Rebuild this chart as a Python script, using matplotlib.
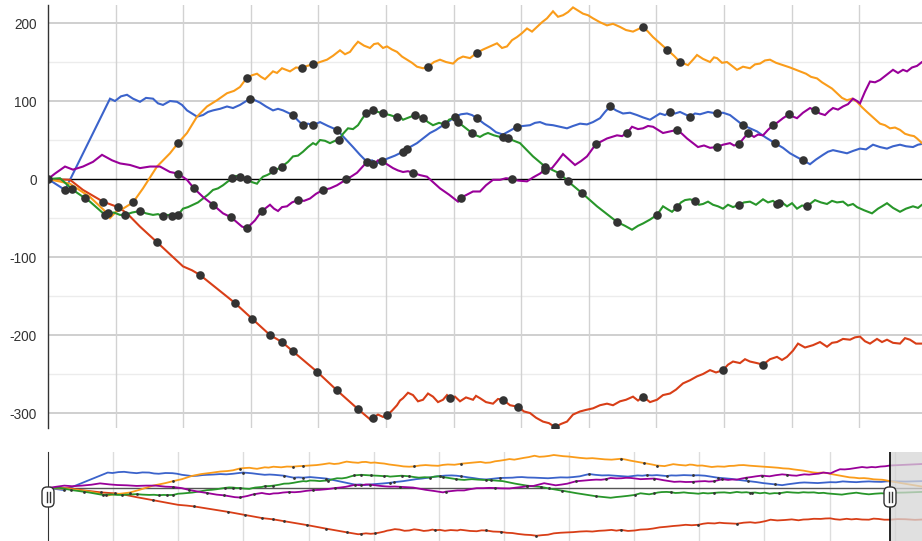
import numpy as np
import matplotlib
matplotlib.use('Agg')
import matplotlib.pyplot as plt
from matplotlib.patches import FancyBboxPatch
from matplotlib.lines import Line2D
from matplotlib.transforms import IdentityTransform

plt.rcParams['font.family'] = ['Liberation Sans', 'DejaVu Sans']

# (step, value); the selected range ends at step 874
blue_pts = [(0, 0), (17, -14), (62, 103), (67, 100), (73, 106), (79, 108), (85, 103), (92, 99), (98, 104), (105, 103),
            (110, 97), (115, 95), (122, 100), (129, 99), (134, 95), (139, 88), (144, 84), (149, 80), (155, 82), (160, 86),
            (165, 88), (172, 90), (179, 93), (185, 91), (192, 95), (197, 99), (202, 103), (207, 101), (212, 98), (218, 93),
            (225, 88), (230, 90), (235, 88), (240, 85), (245, 82), (250, 75), (255, 69), (260, 71), (265, 69), (272, 73),
            (280, 68), (289, 63), (297, 52), (305, 41), (312, 31), (319, 22), (324, 24), (329, 20), (334, 23), (339, 26),
            (347, 30), (355, 35), (362, 41), (369, 46), (375, 52), (382, 59), (388, 63), (395, 69), (401, 74), (407, 80),
            (413, 83), (419, 84), (424, 82), (429, 78), (436, 71), (442, 66), (448, 60), (455, 57), (462, 62), (469, 67),
            (475, 68), (482, 69), (487, 72), (492, 73), (498, 70), (505, 69), (512, 67), (519, 65), (525, 68), (532, 71),
            (539, 70), (545, 73), (552, 78), (557, 86), (562, 93), (568, 88), (575, 84), (582, 85), (589, 82), (595, 79),
            (602, 76), (607, 80), (612, 84), (617, 82), (622, 86), (627, 84), (632, 86), (637, 83), (642, 80), (647, 84),
            (652, 83), (660, 86), (669, 84), (675, 85), (682, 82), (688, 76), (695, 69), (702, 65), (709, 61), (718, 53),
            (727, 46), (735, 40), (742, 33), (749, 28), (755, 24), (762, 19), (768, 25), (775, 31), (780, 35), (785, 37),
            (792, 35), (799, 33), (805, 36), (812, 39), (818, 38), (825, 44), (832, 41), (839, 39), (845, 42), (852, 44),
            (858, 42), (865, 41), (870, 44), (874, 45), (890, 43), (907, 46)]

red_pts = [(0, 0), (22, -1), (35, -14), (55, -29), (70, -36), (79, -44), (92, -61), (109, -81), (135, -112), (144, -117),
           (152, -123), (187, -159), (204, -179), (222, -200), (234, -209), (245, -221), (269, -247), (289, -271), (310, -295), (322, -308),
           (325, -306), (330, -302), (335, -305), (339, -303), (344, -297), (349, -290), (352, -284), (355, -281), (360, -274), (365, -277),
           (370, -285), (375, -283), (380, -275), (385, -279), (390, -286), (395, -283), (399, -277), (402, -281), (407, -279), (412, -285),
           (418, -280), (425, -283), (428, -278), (432, -281), (438, -286), (445, -288), (450, -282), (455, -283), (462, -290), (470, -292),
           (476, -298), (482, -300), (488, -306), (495, -311), (501, -313), (507, -318), (513, -314), (519, -311), (525, -302), (532, -298),
           (538, -296), (545, -294), (552, -290), (559, -288), (565, -290), (572, -285), (578, -283), (585, -279), (590, -284), (595, -279),
           (602, -286), (609, -283), (615, -277), (622, -275), (628, -270), (635, -262), (642, -258), (649, -253), (655, -250), (662, -245),
           (668, -248), (675, -245), (680, -238), (685, -234), (692, -236), (697, -231), (702, -234), (709, -236), (715, -238), (722, -231),
           (729, -228), (734, -232), (739, -228), (745, -220), (750, -211), (757, -216), (765, -213), (772, -209), (779, -215), (784, -210),
           (789, -209), (795, -205), (802, -206), (807, -203), (812, -202), (817, -208), (822, -211), (829, -205), (834, -209), (839, -206),
           (845, -210), (852, -211), (857, -204), (862, -206), (868, -211), (874, -211), (882, -207), (890, -208), (900, -212), (907, -210)]

orange_pts = [(0, 0), (22, -6), (42, -23), (56, -40), (62, -50), (68, -42), (75, -38), (85, -30), (95, -12), (109, 16),
              (122, 33), (130, 46), (139, 59), (149, 80), (159, 93), (169, 101), (179, 110), (186, 113), (192, 118), (199, 130),
              (204, 133), (209, 135), (213, 131), (217, 128), (221, 133), (225, 138), (229, 136), (234, 142), (238, 140), (242, 138),
              (248, 143), (254, 142), (259, 145), (265, 147), (272, 150), (279, 153), (285, 158), (292, 165), (297, 160), (302, 163),
              (306, 170), (310, 176), (316, 171), (322, 168), (326, 173), (330, 174), (335, 168), (339, 170), (344, 166), (349, 163),
              (354, 157), (359, 153), (364, 149), (369, 144), (375, 142), (380, 144), (386, 150), (392, 153), (398, 150), (405, 148),
              (410, 154), (415, 157), (422, 155), (429, 162), (435, 166), (442, 170), (449, 174), (454, 168), (459, 170), (464, 178),
              (469, 182), (474, 187), (479, 193), (484, 189), (489, 195), (494, 201), (499, 206), (505, 215), (510, 208), (515, 210),
              (520, 214), (525, 220), (530, 216), (535, 212), (540, 210), (545, 206), (552, 201), (559, 197), (565, 199), (572, 195),
              (578, 191), (585, 189), (590, 192), (595, 195), (600, 189), (605, 182), (612, 174), (619, 166), (626, 158), (632, 150),
              (640, 146), (645, 153), (649, 159), (655, 154), (662, 150), (666, 156), (669, 155), (674, 149), (679, 150), (684, 145),
              (689, 140), (695, 144), (702, 142), (707, 147), (712, 148), (717, 152), (722, 153), (728, 149), (735, 146), (742, 143),
              (748, 140), (752, 138), (758, 135), (763, 131), (769, 129), (774, 124), (779, 120), (784, 116), (789, 110), (794, 104),
              (799, 101), (804, 103), (809, 99), (814, 92), (819, 86), (825, 79), (832, 71), (837, 69), (842, 65), (847, 66),
              (852, 63), (857, 58), (862, 56), (866, 55), (869, 52), (874, 46), (890, 28), (907, 10)]

green_pts = [(0, 0), (12, 1), (25, -14), (42, -29), (57, -46), (60, -44), (66, -43), (72, -46), (77, -46), (84, -43),
             (92, -41), (98, -44), (105, -46), (110, -45), (115, -48), (120, -46), (124, -47), (130, -46), (135, -38), (140, -36),
             (145, -33), (150, -30), (155, -25), (160, -20), (165, -14), (170, -12), (175, -8), (180, -3), (184, 1), (188, 4),
             (192, 3), (196, 0), (199, 0), (204, -4), (209, -6), (212, -1), (215, 3), (219, 5), (222, 7), (225, 12),
             (230, 13), (234, 16), (240, 22), (245, 29), (250, 30), (255, 35), (260, 41), (265, 46), (268, 44), (272, 50),
             (277, 49), (282, 46), (287, 49), (291, 50), (295, 58), (300, 65), (305, 64), (310, 69), (314, 77), (318, 84),
             (322, 86), (325, 88), (330, 86), (335, 84), (342, 82), (349, 79), (352, 80), (355, 76), (361, 79), (367, 82),
             (371, 80), (375, 78), (380, 73), (385, 69), (391, 72), (397, 70), (401, 76), (405, 78), (410, 73), (417, 66),
             (424, 59), (428, 56), (432, 54), (436, 57), (440, 59), (446, 56), (452, 54), (457, 54), (460, 52), (472, 46),
             (485, 29), (497, 16), (512, 7), (520, -3), (534, -18), (549, -35), (559, -45), (569, -55), (577, -60), (584, -65),
             (590, -60), (595, -57), (602, -52), (609, -46), (615, -35), (620, -39), (624, -42), (629, -36), (633, -30), (637, -27),
             (642, -26), (647, -28), (651, -33), (655, -32), (660, -29), (665, -33), (670, -35), (675, -38), (680, -33), (685, -36),
             (691, -33), (696, -30), (702, -29), (708, -33), (715, -26), (720, -30), (725, -28), (729, -32), (734, -30), (739, -35),
             (744, -31), (749, -38), (754, -34), (759, -35), (763, -31), (767, -27), (773, -30), (779, -32), (784, -28), (789, -30),
             (795, -29), (800, -34), (805, -32), (809, -36), (816, -40), (824, -44), (830, -38), (834, -35), (839, -31), (845, -37),
             (852, -42), (858, -38), (865, -35), (870, -37), (874, -33), (882, -31), (890, -30), (907, -26)]

purple_pts = [(0, 0), (7, 7), (17, 16), (25, 12), (35, 16), (45, 22), (54, 31), (64, 24), (72, 20), (82, 18),
              (92, 14), (102, 16), (112, 16), (122, 9), (130, 7), (139, -1), (146, -12), (155, -23), (165, -33), (175, -44),
              (183, -49), (194, -61), (199, -63), (207, -53), (212, -44), (217, -38), (222, -33), (226, -38), (230, -41), (234, -36),
              (239, -35), (244, -30), (250, -27), (256, -28), (262, -25), (268, -19), (275, -14), (282, -12), (289, -8), (294, -4),
              (298, 0), (303, 3), (309, 8), (314, 15), (319, 22), (323, 19), (327, 20), (330, 24), (334, 23), (340, 18),
              (345, 14), (350, 11), (355, 9), (360, 10), (365, 8), (372, 5), (379, 3), (385, -4), (392, -12), (401, -20),
              (410, -29), (413, -24), (419, -20), (425, -16), (432, -16), (438, -8), (445, -1), (452, -1), (458, 1), (464, 0),
              (470, -2), (479, -3), (485, 2), (492, 7), (497, 12), (504, 14), (509, 22), (515, 32), (521, 25), (527, 18),
              (533, 23), (539, 29), (544, 38), (548, 45), (553, 48), (559, 52), (564, 54), (569, 56), (574, 55), (579, 59),
              (584, 67), (590, 64), (595, 65), (600, 68), (605, 67), (610, 63), (615, 59), (622, 61), (629, 63), (634, 58),
              (639, 52), (645, 46), (650, 41), (656, 43), (662, 40), (669, 41), (675, 44), (682, 46), (686, 43), (691, 45),
              (700, 59), (706, 54), (710, 57), (715, 56), (720, 63), (725, 69), (730, 73), (735, 78), (741, 83), (745, 80),
              (749, 78), (755, 85), (762, 91), (767, 88), (772, 84), (777, 82), (781, 87), (785, 91), (790, 89), (795, 93),
              (800, 96), (805, 103), (809, 100), (812, 97), (817, 112), (822, 125), (827, 124), (832, 127), (838, 133), (845, 140),
              (850, 136), (855, 140), (859, 138), (864, 143), (869, 145), (874, 150), (890, 155), (907, 160)]

# annotated steps on each series
blue_dots = [0, 17, 202, 245, 255, 265, 289, 319, 355, 359, 407, 429, 469, 562, 622, 642, 669, 695, 727, 755]
red_dots = [55, 70, 109, 152, 187, 204, 222, 234, 245, 269, 289, 310, 325, 339, 402, 455, 470, 507, 595, 675, 715]
orange_dots = [85, 130, 199, 254, 265, 380, 429, 595, 619, 632]
green_dots = [24, 37, 57, 60, 77, 92, 115, 124, 130, 184, 192, 199, 225, 234, 291, 318, 325, 335, 349, 367,
              375, 397, 410, 424, 455, 460, 497, 512, 520, 534, 569, 609, 629, 647, 691, 729, 731, 759]
purple_dots = [130, 146, 165, 183, 199, 214, 250, 275, 298, 325, 334, 365, 413, 464, 497, 548, 579, 629,
               669, 691, 700, 725, 741, 767]

y_ticks = [-300, -200, -100, 0, 100, 200]
y_minor = [-250, -150, -50, 50, 150]

sel_end = 874
full_end = 907.2
grid_step = 67.6

series = [
    (blue_pts, blue_dots, '#3b63cb'),
    (red_pts, red_dots, '#d83e17'),
    (orange_pts, orange_dots, '#fa9c1a'),
    (green_pts, green_dots, '#28962a'),
    (purple_pts, purple_dots, '#990099'),
]

W, H = 922, 541
fig = plt.figure(figsize=(W / 100, H / 100), dpi=100)

# main chart
ax = fig.add_axes([48 / W, (H - 428) / H, 874 / W, 423 / H])
ax.set_xlim(0, sel_end)
ax.set_ylim(-319.2, 223.1)
for s in ['top', 'right', 'bottom']:
    ax.spines[s].set_visible(False)
ax.spines['left'].set_color('#333333')
ax.spines['left'].set_linewidth(1.0)
ax.set_xticks([])
ax.set_yticks(y_ticks)
ax.set_yticklabels([str(v) for v in y_ticks])
ax.tick_params(axis='y', length=0, pad=8, labelsize=9.8, labelcolor='#333333')

for v in y_minor:
    ax.axhline(v, color='#ececec', lw=1.0, zorder=0)
for v in y_ticks:
    if v != 0:
        ax.axhline(v, color='#cccccc', lw=1.3, zorder=0)
for x in np.arange(grid_step, sel_end, grid_step):
    ax.axvline(x, color='#d2d2d2', lw=1.0, zorder=0)
ax.axhline(0, color='black', lw=1.0, zorder=3)

for pts, dots, c in series:
    t, v = zip(*pts)
    ax.plot(t, v, color=c, lw=1.5, zorder=4, solid_joinstyle='miter')
for pts, dots, c in series:
    t, v = zip(*pts)
    ax.plot(dots, np.interp(dots, t, v), 'o', color='#333333', ms=6.2, mec='none', zorder=6)

# range selector
nav = fig.add_axes([48 / W, 0, 874 / W, 89 / H])
nav.set_xlim(0, full_end)
nav.set_ylim(-353, 240)
for s in ['top', 'right', 'bottom']:
    nav.spines[s].set_visible(False)
nav.spines['left'].set_color('#333333')
nav.set_xticks([])
nav.set_yticks([])
for x in np.arange(grid_step, full_end, grid_step):
    nav.axvline(x, color='#dddddd', lw=1.0, zorder=0)
nav.axhline(0, color='#555555', lw=1.0, zorder=3)
for pts, dots, c in series:
    t, v = zip(*pts)
    nav.plot(t, v, color=c, lw=1.3, zorder=4)
    nav.plot(dots, np.interp(dots, t, v), 'o', color='#333333', ms=2.0, mec='none', zorder=5)
nav.axvspan(sel_end, full_end, color='#d6d6d6', alpha=0.75, zorder=6, lw=0)
nav.axvline(sel_end, color='black', lw=1.2, zorder=7)

# selector handles (pixel coordinates)
for cx in [48, 890]:
    box = FancyBboxPatch((cx - 6, H - 507), 12, 20, boxstyle='round,pad=0,rounding_size=5',
                         fc='white', ec='#333333', lw=1.0, transform=IdentityTransform(), zorder=10)
    fig.add_artist(box)
    for dx in [-1.5, 1.5]:
        fig.add_artist(Line2D([cx + dx, cx + dx], [H - 502, H - 492], color='#333333', lw=1.0,
                              transform=IdentityTransform(), zorder=11))

fig.savefig('out.png', dpi=100)
